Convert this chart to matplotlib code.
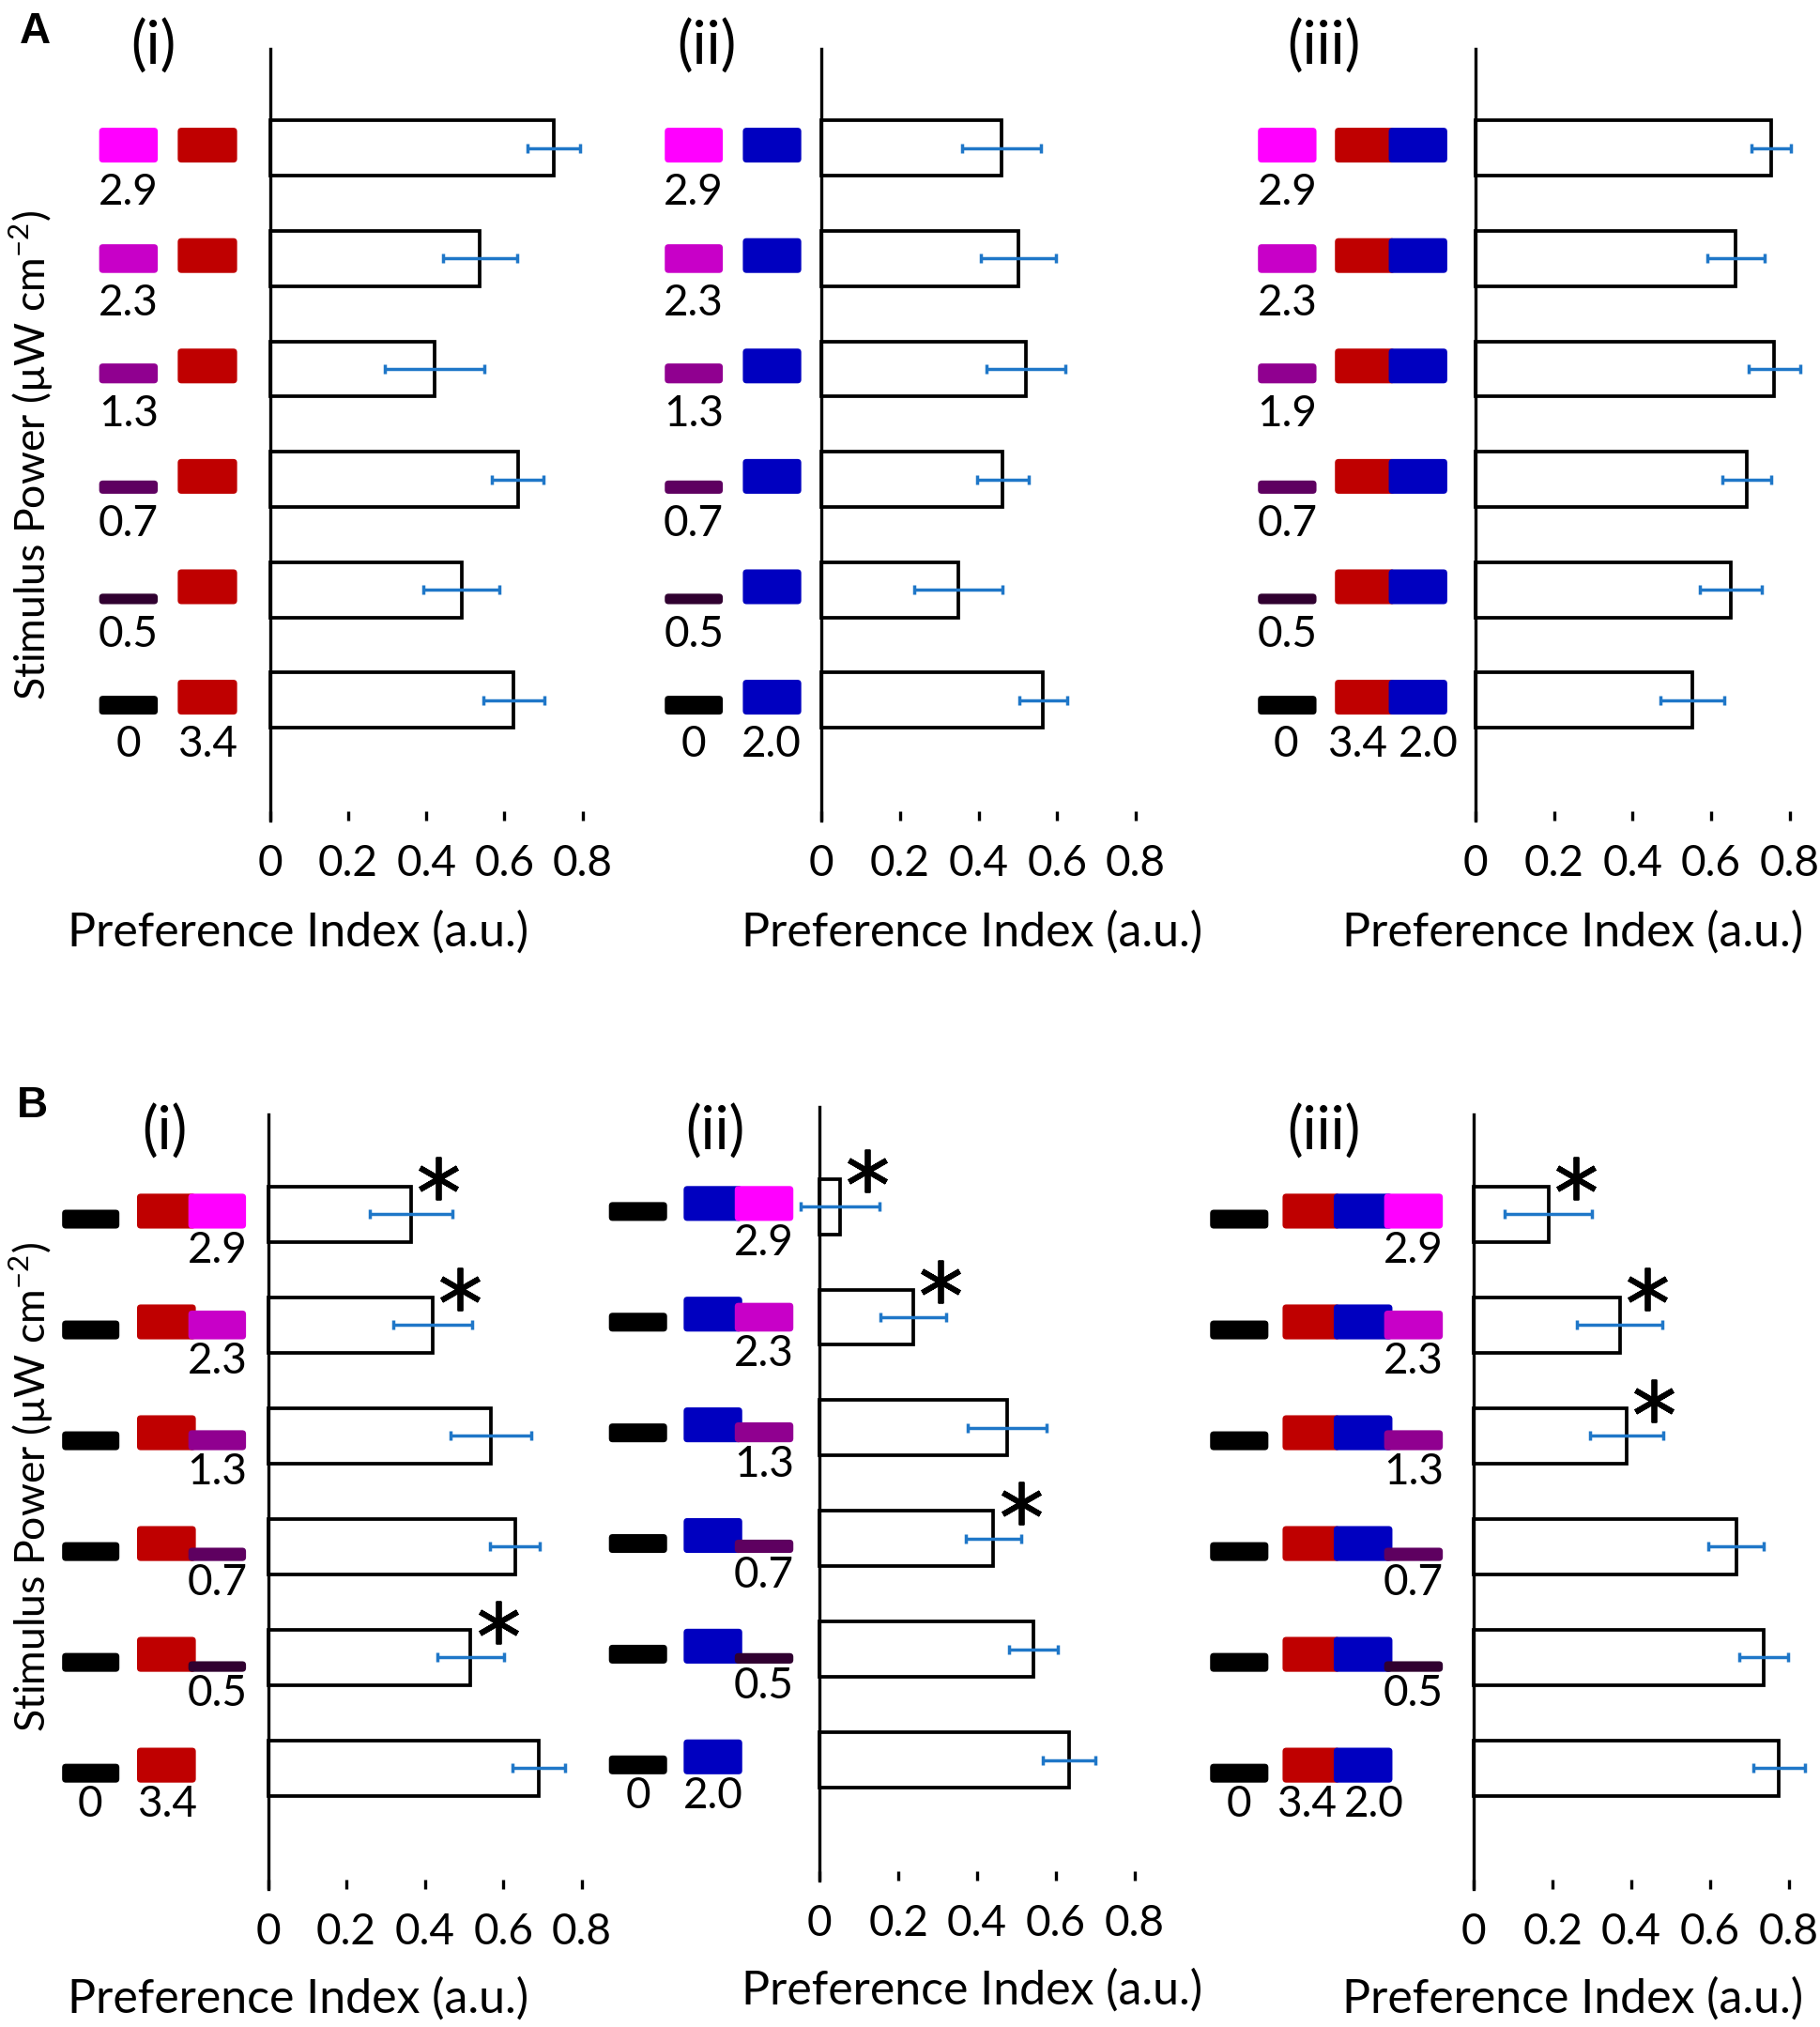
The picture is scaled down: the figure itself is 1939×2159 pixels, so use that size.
import numpy as np
import matplotlib
matplotlib.use("Agg")
import matplotlib.pyplot as plt
from matplotlib.patches import FancyBboxPatch

plt.rcParams["font.family"] = ["Lato", "DejaVu Sans"]
plt.rcParams["mathtext.fontset"] = "custom"
plt.rcParams["mathtext.rm"] = "Lato"

# stimulus levels (UV power, uW cm-2), top row first
levels_ab = ["2.9", "2.3", "1.3", "0.7", "0.5", "0"]
levels_a3 = ["2.9", "2.3", "1.9", "0.7", "0.5", "0"]
light_power = {"red": "3.4", "blue": "2.0"}

# preference index and error, top row first
pi_a1 = [0.726, 0.537, 0.421, 0.634, 0.490, 0.624]
sem_a1 = [0.068, 0.095, 0.128, 0.066, 0.097, 0.079]
pi_a2 = [0.459, 0.502, 0.521, 0.462, 0.348, 0.565]
sem_a2 = [0.101, 0.095, 0.101, 0.065, 0.113, 0.061]
pi_a3 = [0.753, 0.663, 0.761, 0.691, 0.650, 0.552]
sem_a3 = [0.051, 0.073, 0.066, 0.063, 0.078, 0.082]

pi_b1 = [0.365, 0.420, 0.568, 0.630, 0.517, 0.691]
sem_b1 = [0.106, 0.101, 0.103, 0.064, 0.086, 0.067]
sig_b1 = [1, 1, 0, 0, 1, 0]
pi_b2 = [0.052, 0.238, 0.477, 0.442, 0.543, 0.634]
sem_b2 = [0.100, 0.084, 0.100, 0.070, 0.062, 0.066]
sig_b2 = [1, 1, 0, 1, 0, 0]
pi_b3 = [0.189, 0.370, 0.388, 0.666, 0.736, 0.775]
sem_b3 = [0.110, 0.108, 0.092, 0.070, 0.062, 0.066]
sig_b3 = [1, 1, 1, 0, 0, 0]

uv_color = {"2.9": "#ff00ff", "2.3": "#c800c8", "1.9": "#900090", "1.3": "#900090",
            "0.7": "#5e0060", "0.5": "#300030", "0": "#000000"}
uv_height = {"2.9": 0.315, "2.3": 0.26, "1.9": 0.18, "1.3": 0.18,
             "0.7": 0.12, "0.5": 0.095, "0": 0.17}
light_color = {"red": "#bf0000", "blue": "#0000c0"}
err_color = "#1f77c8"

W, H = 1939, 2159
fig = plt.figure(figsize=(W / 100, H / 100), dpi=100)

TICK_FS = 33
NUM_FS = 33
LABEL_FS = 36
TITLE_FS = 45


def swatch(ax, xs, yb, h, color, s, asp):
    ax.add_patch(FancyBboxPatch((xs[0], yb), xs[1] - xs[0], h,
                                boxstyle=f"round,pad=0,rounding_size={4 / s}",
                                mutation_aspect=asp, facecolor=color,
                                edgecolor="none", clip_on=False, zorder=2))


def draw_panel(cfg, values, errs, levels, lights, sig=None):
    x0, x08, top, bottom = cfg["px"]
    s = (x08 - x0) / 0.8
    xlo, xhi = -0.72, 0.85
    ylo, yhi = -1.09, 5.9
    ax = fig.add_axes([(x0 + xlo * s) / W, 1 - bottom / H,
                       (xhi - xlo) * s / W, (bottom - top) / H])
    ax.set_facecolor("none")
    ax.set_xlim(xlo, xhi)
    ax.set_ylim(ylo, yhi)
    asp = (yhi - ylo) / (bottom - top) * s

    rows = np.arange(len(values))[::-1]
    ax.barh(rows, values, height=0.5, color="white", edgecolor="black",
            linewidth=2.7, zorder=2)
    ax.errorbar(values, rows, xerr=errs, fmt="none", ecolor=err_color,
                elinewidth=2.5, capsize=3.8, capthick=2.5, zorder=3)

    cols = cfg["cols"]
    mode = cfg["mode"]
    dy = 0.405 if mode == "A" else 0.33
    full_h = 0.315
    for lev, yc in zip(levels, rows):
        yb = yc - 0.13
        if mode == "A":
            swatch(ax, cols["uv"], yb, uv_height[lev], uv_color[lev], s, asp)
        else:
            swatch(ax, cols["dark"], yb, uv_height["0"], "black", s, asp)
        for light in lights:
            swatch(ax, cols[light], yb, full_h, light_color[light], s, asp)
        if mode == "B" and lev != "0":
            swatch(ax, cols["uv"], yb, uv_height[lev], uv_color[lev], s, asp)
        if lev != "0":
            ax.text(np.mean(cols["uv"]), yc - dy, lev, ha="center", va="center",
                    fontsize=NUM_FS)
        else:
            texts = ["0"] + [light_power[l] for l in lights]
            for t, xt in zip(texts, cfg["base_x"]):
                ax.text(xt, yc - dy, t, ha="center", va="center", fontsize=NUM_FS)

    if sig is not None:
        for v, yc, flag in zip(values, rows, sig):
            if flag:
                ax.plot(v + 0.07, yc + 0.32, linestyle="none", marker=(6, 2, 0),
                        ms=33, mew=4.2, mec="black", zorder=4)

    for side in ["top", "right", "bottom"]:
        ax.spines[side].set_visible(False)
    ax.spines["left"].set_position(("data", 0))
    ax.spines["left"].set_linewidth(2.4)
    ax.set_yticks([])
    ax.set_xticks([0, 0.2, 0.4, 0.6, 0.8])
    ax.set_xticklabels(["0", "0.2", "0.4", "0.6", "0.8"])
    ax.tick_params(axis="x", direction="in", length=7, width=2.4,
                   labelsize=TICK_FS, pad=18)

    fig.text(cfg["xlab"][0] / W, 1 - cfg["xlab"][1] / H, "Preference Index (a.u.)",
             ha="center", va="center", fontsize=LABEL_FS)
    fig.text(cfg["title"][0] / W, 1 - cfg["title"][1] / H, cfg["name"],
             ha="center", va="center", fontsize=TITLE_FS)
    return ax


panels = [
    dict(name="(i)", mode="A", px=(287.6, 620.7, 52, 874),
         cols={"uv": (-0.437, -0.287), "red": (-0.236, -0.084)},
         base_x=[-0.362, -0.16], xlab=(318, 993), title=(163, 50)),
    dict(name="(ii)", mode="A", px=(875.4, 1209.7, 52, 874),
         cols={"uv": (-0.400, -0.252), "blue": (-0.201, -0.052)},
         base_x=[-0.326, -0.128], xlab=(1036, 993), title=(753, 50)),
    dict(name="(iii)", mode="A", px=(1572, 1906.7, 52, 874),
         cols={"uv": (-0.554, -0.405), "red": (-0.358, -0.205), "blue": (-0.221, -0.072)},
         base_x=[-0.482, -0.300, -0.120], xlab=(1676, 993), title=(1410, 50)),
    dict(name="(i)", mode="B", px=(285.5, 619.7, 1187, 2012),
         cols={"dark": (-0.525, -0.379), "red": (-0.334, -0.184), "uv": (-0.203, -0.056)},
         base_x=[-0.453, -0.258], xlab=(318, 2129), title=(175, 1206)),
    dict(name="(ii)", mode="B", px=(873.3, 1208.5, 1179, 2003),
         cols={"dark": (-0.536, -0.388), "blue": (-0.346, -0.197), "uv": (-0.216, -0.067)},
         base_x=[-0.462, -0.272], xlab=(1036, 2120), title=(762, 1206)),
    dict(name="(iii)", mode="B", px=(1570.3, 1905.9, 1187, 2012),
         cols={"dark": (-0.670, -0.522), "red": (-0.486, -0.340), "blue": (-0.356, -0.207),
               "uv": (-0.228, -0.079)},
         base_x=[-0.598, -0.425, -0.255], xlab=(1676, 2129), title=(1410, 1206)),
]

draw_panel(panels[0], pi_a1, sem_a1, levels_ab, ["red"])
draw_panel(panels[1], pi_a2, sem_a2, levels_ab, ["blue"])
draw_panel(panels[2], pi_a3, sem_a3, levels_a3, ["red", "blue"])
draw_panel(panels[3], pi_b1, sem_b1, levels_ab, ["red"], sig_b1)
draw_panel(panels[4], pi_b2, sem_b2, levels_ab, ["blue"], sig_b2)
draw_panel(panels[5], pi_b3, sem_b3, levels_ab, ["red", "blue"], sig_b3)

ylab = "Stimulus Power (µW cm$^{\\mathregular{-2}}$)"
fig.text(33 / W, 1 - 485 / H, ylab, rotation=90, ha="center", va="center", fontsize=32)
fig.text(33 / W, 1 - 1584 / H, ylab, rotation=90, ha="center", va="center", fontsize=32)

fig.text(37 / W, 1 - 34 / H, "A", ha="center", va="center", fontsize=33,
         fontweight="bold", family=["Liberation Sans", "DejaVu Sans"])
fig.text(34 / W, 1 - 1178 / H, "B", ha="center", va="center", fontsize=33,
         fontweight="bold", family=["Liberation Sans", "DejaVu Sans"])

fig.savefig("out.png", dpi=100)
